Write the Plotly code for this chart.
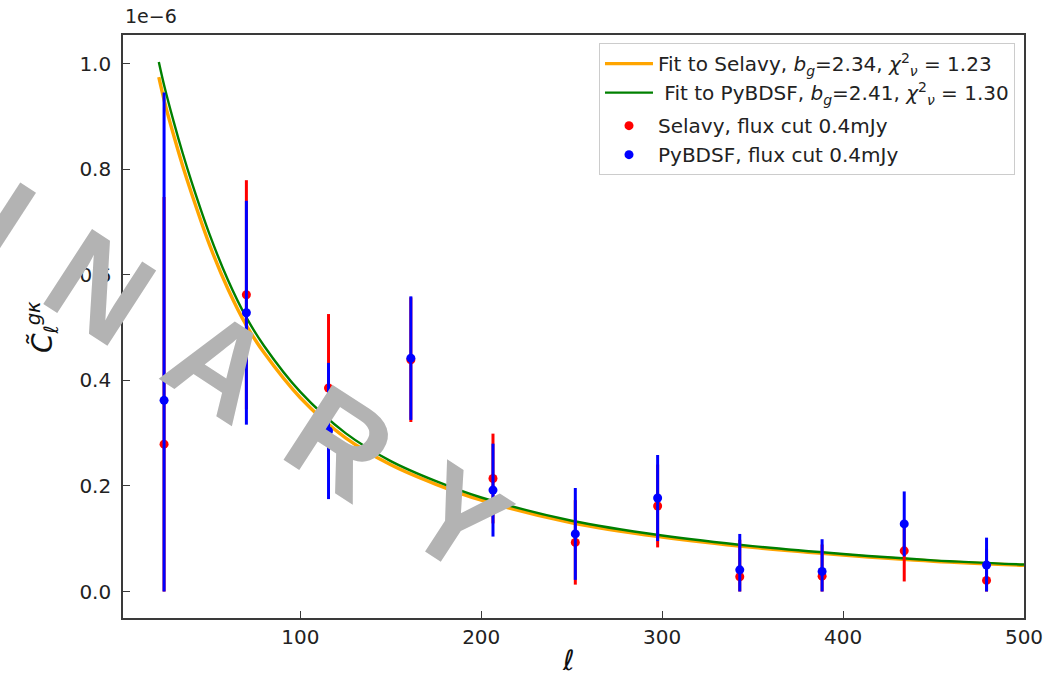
import math
import plotly.graph_objects as go

# Binned multipoles (bin centres)
ell_bins = [24.7, 70.2, 115.6, 161.1, 206.5, 252.0, 297.5, 342.9, 388.4, 433.8, 479.3]

# Cross-power estimates, in units of 1e-6
selavy_cl = [0.279, 0.562, 0.3855, 0.439, 0.214, 0.093, 0.162, 0.028, 0.029, 0.077, 0.021]
selavy_err = [0.468, 0.217, 0.140, 0.118, 0.085, 0.080, 0.0785, 0.070, 0.060, 0.058, 0.060]
pybdsf_cl = [0.362, 0.528, 0.304, 0.442, 0.192, 0.109, 0.177, 0.041, 0.038, 0.128, 0.050]
pybdsf_err = [0.583, 0.212, 0.129, 0.117, 0.088, 0.087, 0.0815, 0.068, 0.061, 0.0615, 0.052]

# Best-fit model curves, in units of 1e-6
ell_fit = [21.8, 25, 30, 35, 40, 50, 60, 70, 80, 100, 125, 150, 175, 200, 250, 300, 350, 400, 450, 500]
fit_selavy = [0.974, 0.927, 0.864, 0.806, 0.753, 0.655, 0.573, 0.505, 0.452, 0.367, 0.291, 0.240,
              0.203, 0.173, 0.130, 0.103, 0.0835, 0.069, 0.0573, 0.0495]
fit_pybdsf = [1.003, 0.955, 0.890, 0.830, 0.775, 0.675, 0.590, 0.520, 0.465, 0.378, 0.300, 0.247,
              0.209, 0.178, 0.134, 0.106, 0.086, 0.071, 0.059, 0.051]

x_ticks = [100, 200, 300, 400, 500]
y_ticks = [0.0, 0.2, 0.4, 0.6, 0.8, 1.0]

W, H = 1047, 682
ML, MR, MT, MB = 123, 23, 35, 64
PW, PH = W - ML - MR, H - MT - MB

FONT = "DejaVu Sans"
AXIS_COLOR = "#3a3a3a"
TEXT_COLOR = "#222222"

fig = go.Figure()

fig.add_trace(go.Scatter(
    x=ell_fit, y=fit_selavy, mode="lines", line=dict(color="#FFA500", width=3.4, shape="spline"),
    legendgroup="fits",
    name="Fit to Selavy, <i>b</i><sub><i>g</i></sub>=2.34, <i>χ</i><sup>2</sup><sub><i>ν</i></sub> = 1.23",
))
fig.add_trace(go.Scatter(
    x=ell_fit, y=fit_pybdsf, mode="lines", line=dict(color="#008000", width=2.4, shape="spline"),
    legendgroup="fits",
    name="&#160;Fit to PyBDSF, <i>b</i><sub><i>g</i></sub>=2.41, <i>χ</i><sup>2</sup><sub><i>ν</i></sub> = 1.30",
))


def clipped(vals, errs):
    # lower error bars stop at zero
    return [min(e, v) for v, e in zip(vals, errs)]


fig.add_trace(go.Scatter(
    x=ell_bins, y=selavy_cl, mode="markers", marker=dict(color="#FF0000", size=9),
    error_y=dict(type="data", symmetric=False, array=selavy_err,
                 arrayminus=clipped(selavy_cl, selavy_err), color="#FF0000", thickness=3, width=0),
    legendgroup="points", name="Selavy, flux cut 0.4mJy",
))
fig.add_trace(go.Scatter(
    x=ell_bins, y=pybdsf_cl, mode="markers", marker=dict(color="#0000FF", size=9),
    error_y=dict(type="data", symmetric=False, array=pybdsf_err,
                 arrayminus=clipped(pybdsf_cl, pybdsf_err), color="#0000FF", thickness=3, width=0),
    legendgroup="points", name="PyBDSF, flux cut 0.4mJy",
))

axis_common = dict(
    showgrid=False, zeroline=False, showline=True, linecolor=AXIS_COLOR, linewidth=1.6,
    mirror=True, ticks="inside", ticklen=7, tickwidth=1.3, tickcolor=AXIS_COLOR,
    tickfont=dict(family=FONT, size=20, color=TEXT_COLOR), automargin=False,
)

fig.update_layout(
    width=W, height=H,
    margin=dict(l=ML, r=MR, t=MT, b=MB, autoexpand=False),
    paper_bgcolor="white", plot_bgcolor="white",
    showlegend=True,
    legend=dict(
        x=0.99, y=0.986, xanchor="right", yanchor="top",
        bgcolor="rgba(255,255,255,0.9)", bordercolor="#cccccc", borderwidth=1,
        font=dict(family=FONT, size=20, color=TEXT_COLOR),
        itemwidth=48, traceorder="grouped", tracegroupgap=4,
    ),
    xaxis=dict(range=[2, 500], tickvals=x_ticks, ticktext=[str(t) for t in x_ticks], **axis_common),
    yaxis=dict(range=[-0.0502, 1.054], tickvals=y_ticks, ticktext=[f"{t:.1f}" for t in y_ticks],
               ticklabelstandoff=6, **axis_common),
)

annotations = [
    dict(text="1e−6", x=0, y=(H - MB - 29) / PH, xref="paper", yref="paper", xanchor="left",
         yanchor="bottom", showarrow=False, font=dict(family=FONT, size=19, color=TEXT_COLOR)),
    dict(text="<i>ℓ</i>", x=(568 - ML) / PW, y=-(660 - (H - MB)) / PH, xref="paper", yref="paper",
         xanchor="center", yanchor="middle", showarrow=False,
         font=dict(family=FONT, size=28, color="#111111")),
    dict(text="<i>C̃</i><sub><i>ℓ</i></sub><sup><i>gκ</i></sup>", x=-(ML - 42) / PW,
         y=(H - MB - 327) / PH, xref="paper", yref="paper", xanchor="center", yanchor="middle",
         textangle=-90, showarrow=False, font=dict(family=FONT, size=28, color="#111111")),
]

# Diagonal "PRELIMINARY" stamp laid over the figure
stamp = "PRELIMINARY"
widths = {"P": 0.667, "R": 0.722, "E": 0.667, "L": 0.611, "I": 0.278, "M": 0.833,
          "N": 0.722, "A": 0.722, "Y": 0.667}
stamp_size = 130
gap = 0.38
angle = 33.0
ref_idx, ref_px = 7, (100.0, 287.0)
centres = []
pos = 0.0
for i, ch in enumerate(stamp):
    if i > 0:
        pos += (widths[stamp[i - 1]] / 2 + gap + widths[ch] / 2) * stamp_size
    centres.append(pos)
ca, sa = math.cos(math.radians(angle)), math.sin(math.radians(angle))
for i, ch in enumerate(stamp):
    d = centres[i] - centres[ref_idx]
    px = ref_px[0] + d * ca
    py = ref_px[1] + d * sa
    if px < -80 or py < -80:
        continue
    annotations.append(dict(
        text=ch, x=(px - ML) / PW, y=(H - MB - py) / PH, xref="paper", yref="paper",
        xanchor="center", yanchor="middle", textangle=angle, showarrow=False,
        font=dict(family="Liberation Sans", size=stamp_size, color="#b3b3b3", weight="bold"),
    ))

fig.update_layout(annotations=annotations)

fig.write_html("out.html")
